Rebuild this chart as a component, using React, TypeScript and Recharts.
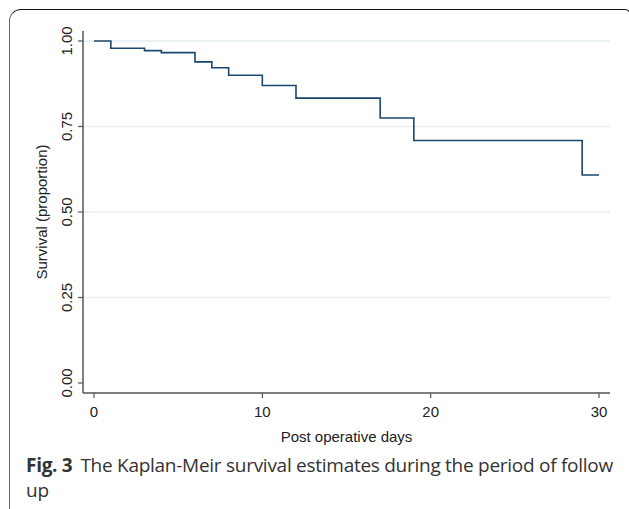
import { LineChart, Line, XAxis, YAxis, ReferenceLine, Label } from "recharts";

// Kaplan-Meier step estimates
const days = [0, 1, 3, 4, 6, 7, 8, 10, 12, 17, 19, 29, 30];
const survival = [1.0, 0.979, 0.972, 0.966, 0.939, 0.922, 0.9, 0.87, 0.833, 0.775, 0.709, 0.608, 0.608];
const xTicks = [0, 10, 20, 30];
const yTicks = [0, 0.25, 0.5, 0.75, 1];
const gridValues = [0.25, 0.5, 0.75, 1];

const data = days.map((d, i) => ({ day: d, s: survival[i] }));

const axisFont = "'Liberation Sans', Arial, sans-serif";

function YTick(props: any) {
  const { x, y, payload } = props;
  return (
    <text
      x={x}
      y={y}
      transform={`rotate(-90 ${x} ${y})`}
      textAnchor="middle"
      fontFamily={axisFont}
      fontSize={15}
      fill="#222"
    >
      {Number(payload.value).toFixed(2)}
    </text>
  );
}

function YLabel(props: any) {
  const vb = props.viewBox;
  const cx = vb.x + 47;
  const cy = vb.y + vb.height / 2;
  return (
    <text
      x={cx}
      y={cy}
      transform={`rotate(-90 ${cx} ${cy})`}
      textAnchor="middle"
      fontFamily={axisFont}
      fontSize={15}
      fill="#222"
    >
      Survival (proportion)
    </text>
  );
}

function XLabel(props: any) {
  const vb = props.viewBox;
  return (
    <text
      x={vb.x + vb.width / 2}
      y={442}
      textAnchor="middle"
      fontFamily={axisFont}
      fontSize={15}
      fill="#222"
    >
      Post operative days
    </text>
  );
}

export default function App() {
  return (
    <div style={{ position: "absolute", left: 0, top: 0, width: 629, height: 509, background: "#fff", overflow: "hidden" }}>
      <div
        style={{
          position: "absolute",
          left: 9,
          top: 9,
          width: 622,
          height: 510,
          borderTop: "1.5px solid #111",
          borderLeft: "1.5px solid #666",
          borderRight: "1.5px solid #111",
          borderTopLeftRadius: 12,
          borderTopRightRadius: 6,
          boxSizing: "border-box",
        }}
      />
      <div style={{ position: "absolute", left: 0, top: 0 }}>
        <LineChart width={629} height={450} data={data} margin={{ top: 31, right: 19, left: 0, bottom: 0 }}>
          {gridValues.map((v) => (
            <ReferenceLine key={v} y={v} stroke="#e6eff1" strokeWidth={1.3} />
          ))}
          <XAxis
            dataKey="day"
            type="number"
            domain={[0, 30]}
            ticks={xTicks}
            padding={{ left: 11, right: 11 }}
            height={57}
            tickSize={5}
            tickMargin={8}
            axisLine={{ stroke: "#555", strokeWidth: 1.5 }}
            tickLine={{ stroke: "#555", strokeWidth: 1.2 }}
            tick={{ fontFamily: axisFont, fontSize: 15, fill: "#222" }}
          >
            <Label content={<XLabel />} />
          </XAxis>
          <YAxis
            type="number"
            domain={[0, 1]}
            ticks={yTicks}
            padding={{ top: 10, bottom: 10 }}
            width={83}
            tickSize={5}
            tickMargin={6}
            axisLine={{ stroke: "#555", strokeWidth: 1.5 }}
            tickLine={{ stroke: "#555", strokeWidth: 1.2 }}
            tick={<YTick />}
          >
            <Label content={<YLabel />} />
          </YAxis>
          <Line
            type="stepAfter"
            dataKey="s"
            stroke="#1a476f"
            strokeWidth={1.6}
            dot={false}
            activeDot={false}
            isAnimationActive={false}
          />
        </LineChart>
      </div>
      <div
        style={{
          position: "absolute",
          left: 26,
          top: 453,
          width: 600,
          fontFamily: "'Open Sans', 'Noto Sans', sans-serif",
          fontSize: 19,
          lineHeight: "24.5px",
          color: "#333",
          whiteSpace: "nowrap",
        }}
      >
        <span style={{ fontWeight: 700, letterSpacing: -0.3 }}>Fig. 3</span>
        <span style={{ marginLeft: 8, letterSpacing: -0.27 }}>The Kaplan-Meir survival estimates during the period of follow</span>
        <br />
        <span style={{ letterSpacing: -0.27 }}>up</span>
      </div>
    </div>
  );
}
